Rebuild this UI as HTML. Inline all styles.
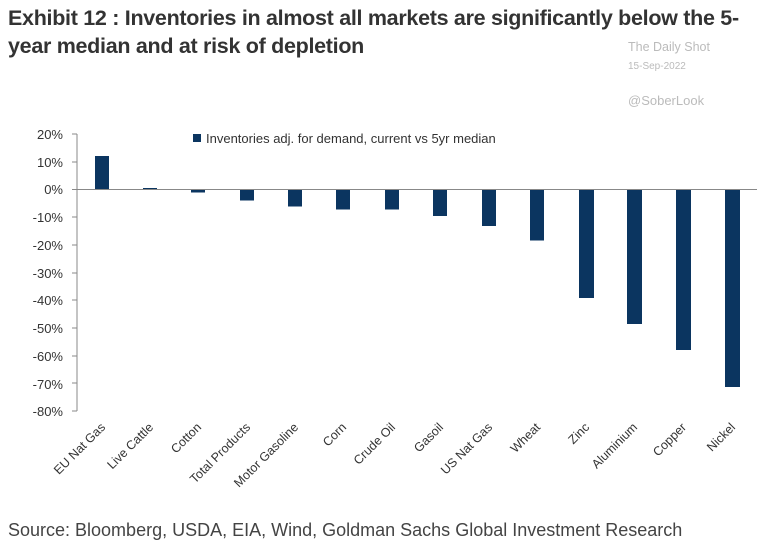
<!DOCTYPE html>
<html><head><style>
body{margin:0;width:780px;height:544px;background:#fff;overflow:hidden;font-family:"Liberation Sans",sans-serif;}
.t{position:absolute;left:8px;top:4px;font-weight:bold;font-size:21.5px;line-height:28px;color:#333;letter-spacing:-0.3px;white-space:nowrap}
.w{position:absolute;color:#bbb;font-size:12px}
</style></head><body>
<div class="t">Exhibit 12 : Inventories in almost all markets are significantly below the 5-<br>year median and at risk of depletion</div>
<div class="w" style="left:628px;top:40px;font-size:12.5px">The Daily Shot</div>
<div class="w" style="left:628px;top:61px;font-size:10px">15-Sep-2022</div>
<div class="w" style="left:628px;top:93px;font-size:13px">@SoberLook</div>
<svg width="780" height="544" style="position:absolute;left:0;top:0" font-family="Liberation Sans, sans-serif">
<g font-size="13" fill="#333" text-anchor="end">
<text x="63" y="139">20%</text><text x="63" y="167">10%</text><text x="63" y="194">0%</text>
<text x="63" y="222">-10%</text><text x="63" y="250">-20%</text><text x="63" y="278">-30%</text>
<text x="63" y="305">-40%</text><text x="63" y="333">-50%</text><text x="63" y="361">-60%</text>
<text x="63" y="389">-70%</text><text x="63" y="416">-80%</text>
</g>
<g stroke="#888" stroke-width="1">
<line x1="77" y1="134" x2="77" y2="411"/>
<line x1="72" y1="134" x2="77" y2="134"/><line x1="72" y1="162" x2="77" y2="162"/><line x1="72" y1="189.5" x2="77" y2="189.5"/>
<line x1="72" y1="217" x2="77" y2="217"/><line x1="72" y1="245" x2="77" y2="245"/><line x1="72" y1="273" x2="77" y2="273"/>
<line x1="72" y1="300" x2="77" y2="300"/><line x1="72" y1="328" x2="77" y2="328"/><line x1="72" y1="356" x2="77" y2="356"/>
<line x1="72" y1="383" x2="77" y2="383"/><line x1="72" y1="411" x2="77" y2="411"/>
</g>
<g fill="#0b3560">
<rect x="95" y="156" width="14" height="33.5"/>
<rect x="143" y="188" width="14" height="1.5"/>
<rect x="191" y="189.5" width="14" height="3"/>
<rect x="240" y="189.5" width="14" height="11"/>
<rect x="288" y="189.5" width="14" height="17"/>
<rect x="336" y="189.5" width="14" height="20"/>
<rect x="385" y="189.5" width="14" height="20"/>
<rect x="433" y="189.5" width="14" height="26.5"/>
<rect x="482" y="189.5" width="14" height="36.5"/>
<rect x="530" y="189.5" width="14" height="51"/>
<rect x="579" y="189.5" width="15" height="108.5"/>
<rect x="627" y="189.5" width="15" height="134.5"/>
<rect x="676" y="189.5" width="15" height="160.5"/>
<rect x="725" y="189.5" width="15" height="197.5"/>
</g>
<line x1="77" y1="189.5" x2="757" y2="189.5" stroke="#888" stroke-width="1"/>
<rect x="193" y="134" width="8" height="8" fill="#0b3560"/>
<text x="206" y="143" font-size="13" fill="#333">Inventories adj. for demand, current vs 5yr median</text>
<g font-size="12.5" fill="#333" text-anchor="end">
<text transform="translate(106,428) rotate(-45)">EU Nat Gas</text>
<text transform="translate(154,428) rotate(-45)">Live Cattle</text>
<text transform="translate(202,428) rotate(-45)">Cotton</text>
<text transform="translate(251,428) rotate(-45)">Total Products</text>
<text transform="translate(299,428) rotate(-45)">Motor Gasoline</text>
<text transform="translate(347,428) rotate(-45)">Corn</text>
<text transform="translate(396,428) rotate(-45)">Crude Oil</text>
<text transform="translate(444,428) rotate(-45)">Gasoil</text>
<text transform="translate(493,428) rotate(-45)">US Nat Gas</text>
<text transform="translate(541,428) rotate(-45)">Wheat</text>
<text transform="translate(590,428) rotate(-45)">Zinc</text>
<text transform="translate(638,428) rotate(-45)">Aluminium</text>
<text transform="translate(687,428) rotate(-45)">Copper</text>
<text transform="translate(736,428) rotate(-45)">Nickel</text>
</g>
<text x="8" y="536" font-size="18" fill="#444">Source: Bloomberg, USDA, EIA, Wind, Goldman Sachs Global Investment Research</text>
</svg>
</body></html>
